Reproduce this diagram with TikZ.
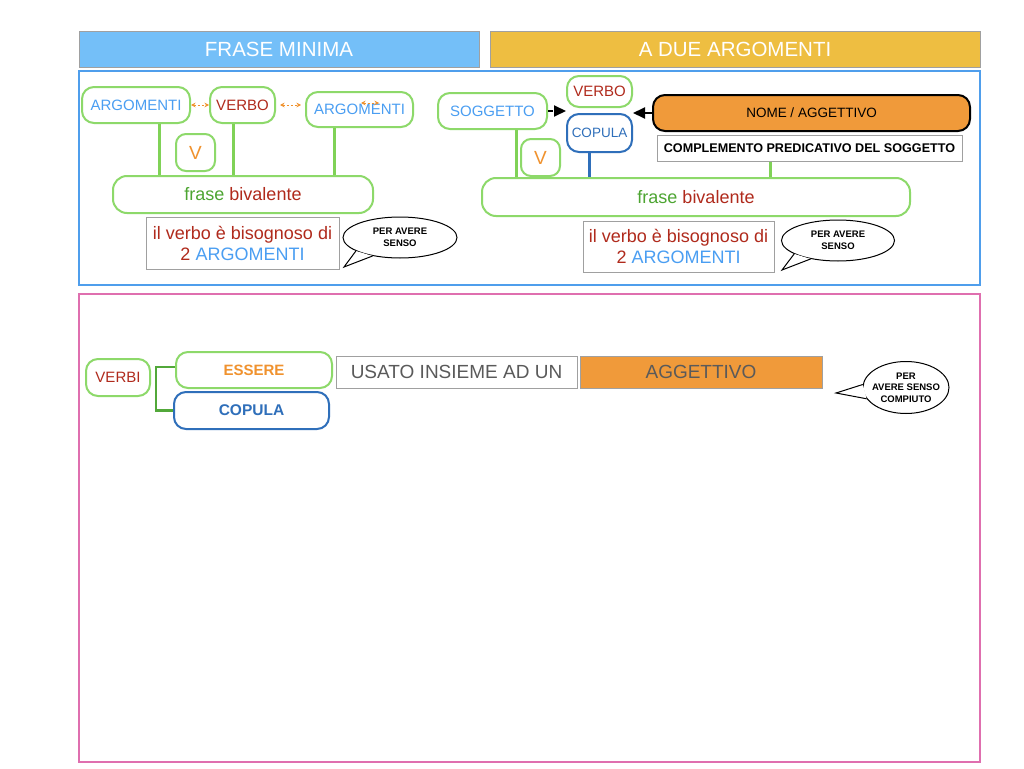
\documentclass[tikz,border=0pt]{standalone}
\usepackage{fontspec}
\setmainfont{Liberation Sans}
\usetikzlibrary{arrows.meta,shapes.geometric}
\definecolor{hblue}{HTML}{74BFF8}
\definecolor{hyel}{HTML}{EEBE41}
\definecolor{fblue}{HTML}{4F9EEC}
\definecolor{fpink}{HTML}{DF6FAF}
\definecolor{ngreen}{HTML}{8DD96A}
\definecolor{lgreen}{HTML}{80D257}
\definecolor{dgreen}{HTML}{52A83A}
\definecolor{tblue}{HTML}{4A9EF2}
\definecolor{dred}{HTML}{B02A1C}
\definecolor{torange}{HTML}{F0922E}
\definecolor{fgreen}{HTML}{4DA532}
\definecolor{cblue}{HTML}{2F6FBA}
\definecolor{forange}{HTML}{F09A3A}
\definecolor{tgray}{HTML}{5A5A5A}
\definecolor{bgray}{HTML}{A0A0A0}
\newcommand{\myfs}[2]{\fontsize{#1}{#2}\selectfont}
\tikzset{
  hdr/.style={draw=bgray, line width=1pt, text=white, font=\myfs{20.5}{24}, inner sep=0pt},
  gnode/.style={draw=ngreen, line width=2pt, rounded corners=12pt, fill=white, inner sep=0pt, font=\myfs{15}{18}},
  bnode/.style={gnode, draw=cblue},
  gbox/.style={draw=bgray, line width=1pt, fill=white, inner sep=0pt, align=center},
  bub/.style={ellipse, draw=black, line width=1pt, fill=white, inner sep=0pt, align=center, font=\myfs{9.5}{11.5}\bfseries},
  btext/.style={inner sep=0pt, align=center, font=\myfs{9.5}{11.5}\bfseries},
  oarr/.style={draw=torange, line width=1pt, dash pattern=on 2pt off 2pt, {Stealth[length=4.5pt,width=4.5pt]}-{Stealth[length=4.5pt,width=4.5pt]}},
  barr/.style={line width=2pt, -{Triangle[length=12pt,width=11pt]}},
  vline/.style={draw=lgreen, line width=3pt},
  frame/.style={line width=2pt}
}
\begin{document}
\begin{tikzpicture}[x=1pt,y=-1pt]
\useasboundingbox[fill=white] (0,0) rectangle (1024,768);

% headers
\node[hdr, fill=hblue, minimum width=400pt, minimum height=35pt] (h1) at (279,49.5) {FRASE MINIMA};
\node[hdr, fill=hyel, minimum width=490pt, minimum height=35pt] (h2) at (735,49.5) {A DUE ARGOMENTI};

% frames
\draw[frame, fblue] (79,71) rectangle (980,285);
\draw[frame, fpink] (79,294) rectangle (980,762);

% ---------- top left ----------
\node[gnode, minimum width=108pt, minimum height=36pt, text=tblue] (arg1) at (136,105) {ARGOMENTI};
\node[gnode, minimum width=65pt, minimum height=36pt, text=dred] (verb1) at (242.5,105) {VERBO};
\node[gnode, minimum width=107pt, minimum height=35pt, text=tblue] (arg2) at (359.5,109.5) {ARGOMENTI};
\node[gnode, rounded corners=10pt, minimum width=39pt, minimum height=37pt, text=torange, font=\myfs{19}{22}] (v1) at (195.5,152.5) {V};
\node[gnode, rounded corners=14pt, minimum width=260pt, minimum height=37pt, font=\myfs{18}{21}] (fr1) at (243,194.5) {\textcolor{fgreen}{frase} \textcolor{dred}{bivalente}};
\node[gbox, minimum width=193pt, minimum height=52pt, font=\myfs{18}{21}] (gb1) at (242.5,243) {\textcolor{dred}{il verbo è bisognoso di}\\\textcolor{dred}{2} \textcolor{tblue}{ARGOMENTI}};

\draw[oarr] (arg1.east) -- (verb1.west);
\draw[oarr, shorten <=4pt, shorten >=4pt] (verb1.east) -- (verb1.east -| arg2.west);
\coordinate (ia) at (361,103);
\coordinate (ib) at (379,103);
\draw[oarr] (ia) -- (ib);

\draw[vline] ([xshift=23pt]arg1.south) -- ([xshift=23pt]arg1.south |- fr1.north);
\draw[vline] ([xshift=-9.5pt]verb1.south) -- ([xshift=-9.5pt]verb1.south |- fr1.north);
\draw[vline] ([xshift=-25.5pt]arg2.south) -- ([xshift=-25.5pt]arg2.south |- fr1.north);

\node[bub, minimum width=114pt, minimum height=41pt] (b1) at (400,237.5) {};
\coordinate (t1) at (344,267);
\fill[white] (b1.197) -- (t1) -- (b1.214) -- cycle;
\draw[line width=1pt] (b1.197) -- (t1) -- (b1.214);
\node[btext] (b1t) at (b1.center) {PER AVERE\\SENSO};

% ---------- top right ----------
\node[gnode, minimum width=109pt, minimum height=36pt, text=tblue] (sog) at (492.5,111) {SOGGETTO};
\node[gnode, minimum width=65pt, minimum height=31pt, text=dred] (verb2) at (599.5,91.5) {VERBO};
\node[bnode, minimum width=65pt, minimum height=38pt, text=cblue, font=\myfs{13.5}{16}] (cop) at (599.5,133) {COPULA};
\node[gnode, rounded corners=10pt, minimum width=39pt, minimum height=37pt, text=torange, font=\myfs{19}{22}] (v2) at (540.5,157.5) {V};
\node[draw=black, line width=2pt, rounded corners=12pt, fill=forange, inner sep=0pt, minimum width=317pt, minimum height=36pt, font=\myfs{13.5}{16}] (nome) at (811.5,113) {NOME / AGGETTIVO};
\node[gbox, minimum width=305pt, minimum height=26pt, font=\myfs{12.6}{15}\bfseries] (compl) at (809.5,148) {COMPLEMENTO PREDICATIVO DEL SOGGETTO};
\node[gnode, rounded corners=14pt, minimum width=428pt, minimum height=38pt, font=\myfs{18}{21}] (fr2) at (696,197) {\textcolor{fgreen}{frase} \textcolor{dred}{bivalente}};
\node[gbox, minimum width=191pt, minimum height=51pt, font=\myfs{18}{21}] (gb2) at (678.5,246.5) {\textcolor{dred}{il verbo è bisognoso di}\\\textcolor{dred}{2} \textcolor{tblue}{ARGOMENTI}};

\draw[barr, dash pattern=on 5pt off 3pt] (sog.east) -- (sog.east -| cop.west);
\draw[barr] (nome.west) -- (nome.west -| cop.east);

\draw[vline] ([xshift=23.5pt]sog.south) -- ([xshift=23.5pt]sog.south |- fr2.north);
\draw[vline, draw=cblue] ([xshift=-10.5pt]cop.south) -- ([xshift=-10.5pt]cop.south |- fr2.north);
\draw[vline] ([xshift=-39.5pt]compl.south) -- ([xshift=-39.5pt]compl.south |- fr2.north);

\node[bub, minimum width=113pt, minimum height=41pt] (b2) at (838,240.5) {};
\coordinate (t2) at (782,270);
\fill[white] (b2.197) -- (t2) -- (b2.214) -- cycle;
\draw[line width=1pt] (b2.197) -- (t2) -- (b2.214);
\node[btext] (b2t) at (b2.center) {PER AVERE\\SENSO};

% ---------- bottom ----------
\node[gnode, minimum width=64pt, minimum height=37pt, text=dred] (verbi) at (118,377.5) {VERBI};
\node[gnode, minimum width=156pt, minimum height=36pt, text=torange, font=\myfs{15}{18}\bfseries] (ess) at (254,370) {ESSERE};
\node[bnode, minimum width=155pt, minimum height=37pt, text=cblue, font=\myfs{15.5}{18}\bfseries] (cop2) at (251.5,410.5) {COPULA};
\draw[dgreen, line width=2.5pt] ([yshift=3pt]ess.west) -- ++(-19,0) |- (cop2.west);
\node[gbox, minimum width=241pt, minimum height=32pt, text=tgray, font=\myfs{19}{22}] (usa) at (456.5,372) {USATO INSIEME AD UN};
\node[gbox, fill=forange, minimum width=242pt, minimum height=32pt, text=tgray, font=\myfs{19}{22}] (agg) at (701,372) {AGGETTIVO};

\node[bub, minimum width=86pt, minimum height=52pt] (b3) at (906,387.5) {};
\coordinate (t3) at (836,393);
\fill[white] (b3.176) -- (t3) -- (b3.196) -- cycle;
\draw[line width=1pt] (b3.176) -- (t3) -- (b3.196);
\node[btext] (b3t) at (b3.center) {PER\\AVERE SENSO\\COMPIUTO};
\end{tikzpicture}
\end{document}
